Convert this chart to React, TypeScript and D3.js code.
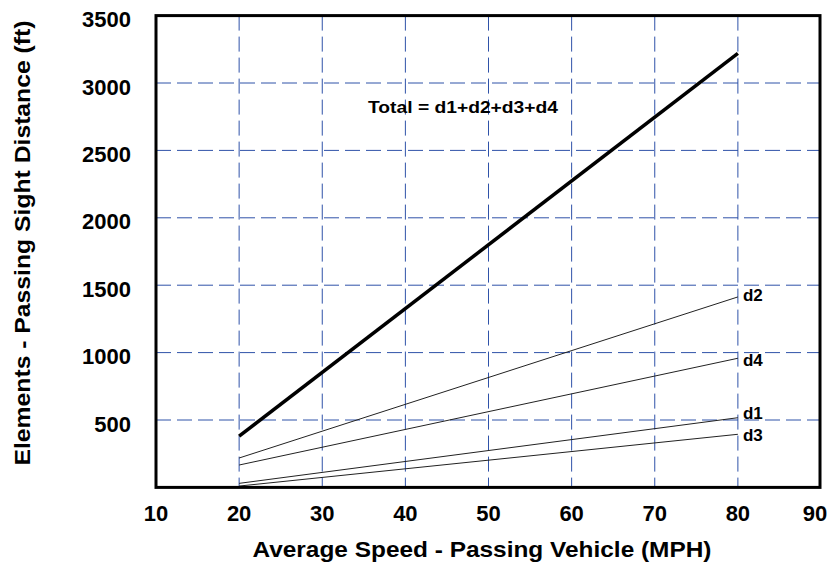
import React from "react";
import * as d3 from "d3";

const speeds = [20, 80];
const totalValues = [380, 3220];
const d1Values = [30, 517];
const d2Values = [218, 1413];
const d3Values = [10, 394];
const d4Values = [166, 958];
const seriesNames = ["d2", "d4", "d1", "d3"];
const xTicks = [10, 20, 30, 40, 50, 60, 70, 80, 90];
const yTicks = [500, 1000, 1500, 2000, 2500, 3000, 3500];
const xGrid = [20, 30, 40, 50, 60, 70, 80];
const yGrid = [500, 1000, 1500, 2000, 2500, 3000];
const totalLabel = "Total = d1+d2+d3+d4";
const xTitle = "Average Speed - Passing Vehicle (MPH)";
const yTitle = "Elements - Passing Sight Distance (ft)";

const W = 831;
const H = 567;
const M = { left: 156, right: 821, top: 15.6, bottom: 487.4 };
const FONT = "'Liberation Sans', Arial, sans-serif";

export default function App() {
  const x = d3.scaleLinear().domain([10, 90]).range([M.left, M.right]);
  const y = d3.scaleLinear().domain([0, 3500]).range([M.bottom, M.top]);
  const line = d3
    .line<[number, number]>()
    .x((d) => x(d[0]))
    .y((d) => y(d[1]));
  const pts = (vals: number[]) => speeds.map((s, i) => [s, vals[i]] as [number, number]);
  const series: Record<string, number[]> = { d1: d1Values, d2: d2Values, d3: d3Values, d4: d4Values };
  const labelDy: Record<string, number> = { d2: 4, d4: 8, d1: 1, d3: 7 };
  const gridColor = "#2f52a8";

  return (
    <svg width={W} height={H} style={{ position: "absolute", left: 0, top: 0, background: "#fff" }} fontFamily={FONT}>
      <rect x={0} y={0} width={W} height={H} fill="#fff" />
      {xGrid.map((v) => (
        <line key={"xg" + v} x1={x(v)} x2={x(v)} y1={M.top} y2={M.bottom} stroke={gridColor} strokeWidth={1} strokeDasharray="15,6" />
      ))}
      {yGrid.map((v) => (
        <line key={"yg" + v} x1={M.left} x2={M.right} y1={y(v)} y2={y(v)} stroke={gridColor} strokeWidth={1} strokeDasharray="15,6" />
      ))}
      {seriesNames.map((n) => (
        <path key={n} d={line(pts(series[n])) || ""} fill="none" stroke="#222" strokeWidth={1} />
      ))}
      <path d={line(pts(totalValues)) || ""} fill="none" stroke="#000" strokeWidth={3.5} />
      {seriesNames.map((n) => (
        <text
          key={"l" + n}
          x={x(speeds[1]) + 5}
          y={y(series[n][series[n].length - 1]) + labelDy[n]}
          fontSize={17}
          fontWeight="bold"
          fill="#000"
        >
          {n}
        </text>
      ))}
      <text x={368} y={113} fontSize={17} fontWeight="bold" textLength={190} lengthAdjust="spacingAndGlyphs">
        {totalLabel}
      </text>
      <rect
        x={M.left}
        y={M.top}
        width={M.right - M.left - 1}
        height={M.bottom - M.top}
        fill="none"
        stroke="#000"
        strokeWidth={3}
      />
      {xTicks.map((v) => (
        <text key={"xt" + v} x={Math.min(x(v), W - 16)} y={521} textAnchor="middle" fontSize={22} fontWeight="bold">
          {v}
        </text>
      ))}
      {yTicks.map((v) => (
        <text key={"yt" + v} x={131} y={y(v) + 11.5} textAnchor="end" fontSize={22} fontWeight="bold">
          {v}
        </text>
      ))}
      <text x={482} y={557} textAnchor="middle" fontSize={22} fontWeight="bold" textLength={459} lengthAdjust="spacingAndGlyphs">
        {xTitle}
      </text>
      <text
        transform={`translate(30,243) rotate(-90)`}
        textAnchor="middle"
        fontSize={22}
        fontWeight="bold"
        textLength={445}
        lengthAdjust="spacingAndGlyphs"
      >
        {yTitle}
      </text>
    </svg>
  );
}
